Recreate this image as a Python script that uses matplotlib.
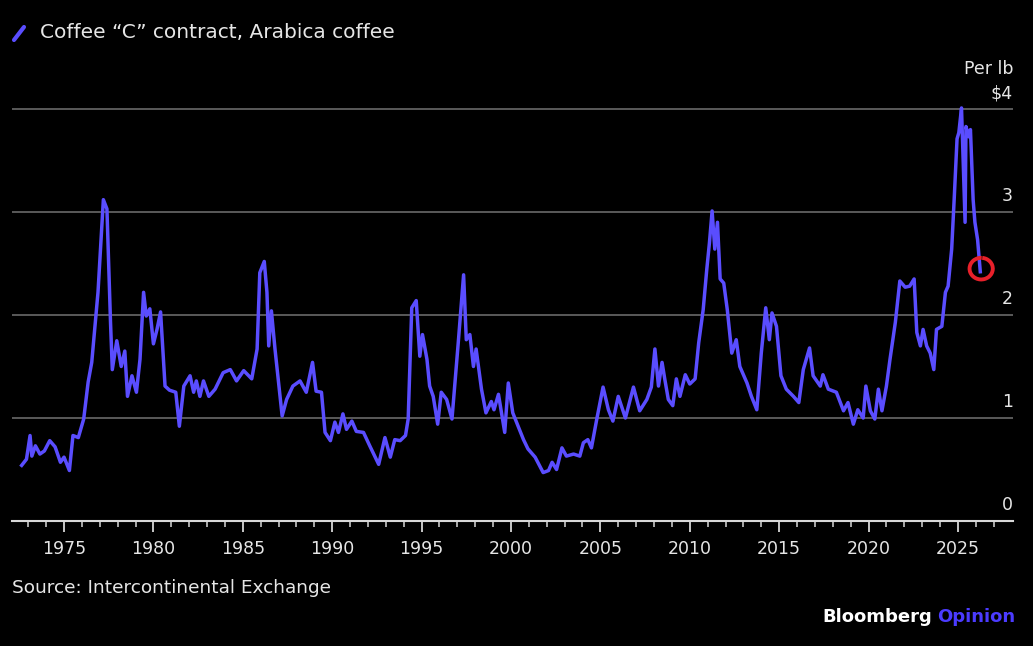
import matplotlib
matplotlib.use("Agg")
import matplotlib.pyplot as plt
from matplotlib.patches import Arc
from matplotlib.lines import Line2D
import numpy as np

# Precio del contrato "C" (USD por libra)
years = [1972.63, 1972.9, 1973.1, 1973.2, 1973.4, 1973.65, 1973.9, 1974.2, 1974.5, 1974.8,
         1975.0, 1975.3, 1975.5, 1975.8, 1976.1, 1976.35, 1976.55, 1976.9, 1977.2, 1977.4,
         1977.6, 1977.7, 1977.95, 1978.2, 1978.4, 1978.55, 1978.8, 1979.05, 1979.25, 1979.45,
         1979.6, 1979.8, 1980.0, 1980.2, 1980.4, 1980.65, 1980.9, 1981.25, 1981.45, 1981.7,
         1982.05, 1982.25, 1982.4, 1982.6, 1982.8, 1983.1, 1983.45, 1983.9, 1984.3, 1984.65,
         1985.05, 1985.5, 1985.8, 1985.95, 1986.2, 1986.35, 1986.45, 1986.6, 1986.8, 1987.2,
         1987.45, 1987.8, 1988.2, 1988.55, 1988.9, 1989.1, 1989.4, 1989.6, 1989.9, 1990.15,
         1990.35, 1990.6, 1990.8, 1991.1, 1991.35, 1991.75, 1992.1, 1992.6, 1992.95, 1993.25,
         1993.5, 1993.8, 1994.1, 1994.25, 1994.45, 1994.7, 1994.9, 1995.05, 1995.3, 1995.45,
         1995.65, 1995.9, 1996.1, 1996.4, 1996.7, 1997.05, 1997.35, 1997.5, 1997.7, 1997.9,
         1998.05, 1998.35, 1998.6, 1998.9, 1999.05, 1999.3, 1999.65, 1999.85, 2000.1, 2000.4,
         2000.7, 2000.95, 2001.35, 2001.8, 2002.1, 2002.3, 2002.55, 2002.85, 2003.1, 2003.5,
         2003.85, 2004.05, 2004.3, 2004.5, 2004.8, 2005.15, 2005.45, 2005.7, 2006.0, 2006.4,
         2006.85, 2007.2, 2007.6, 2007.85, 2008.05, 2008.25, 2008.45, 2008.6, 2008.8, 2009.05,
         2009.25, 2009.45, 2009.75, 2010.0, 2010.3, 2010.5, 2010.75, 2010.95, 2011.1, 2011.25,
         2011.4, 2011.55, 2011.7, 2011.9, 2012.1, 2012.35, 2012.6, 2012.8, 2013.2, 2013.45,
         2013.75, 2014.0, 2014.25, 2014.45, 2014.6, 2014.85, 2015.1, 2015.4, 2015.8, 2016.1,
         2016.35, 2016.7, 2016.9, 2017.3, 2017.45, 2017.75, 2018.2, 2018.6, 2018.85, 2019.15,
         2019.4, 2019.7, 2019.85, 2020.1, 2020.35, 2020.55, 2020.75, 2021.0, 2021.2, 2021.5,
         2021.75, 2022.05, 2022.3, 2022.55, 2022.7, 2022.9, 2023.05, 2023.25, 2023.45, 2023.65,
         2023.8, 2024.1, 2024.3, 2024.45, 2024.65, 2024.8, 2024.95, 2025.05, 2025.2, 2025.3,
         2025.4, 2025.45, 2025.6, 2025.7, 2025.85, 2025.95, 2026.1, 2026.25]
prices = [0.54, 0.60, 0.83, 0.63, 0.73, 0.65, 0.68, 0.78, 0.72, 0.57,
          0.62, 0.49, 0.83, 0.81, 0.99, 1.35, 1.54, 2.22, 3.12, 3.03,
          1.93, 1.47, 1.75, 1.50, 1.65, 1.21, 1.41, 1.25, 1.57, 2.22,
          1.99, 2.06, 1.72, 1.86, 2.03, 1.31, 1.27, 1.25, 0.92, 1.31,
          1.41, 1.25, 1.36, 1.21, 1.36, 1.21, 1.28, 1.44, 1.47, 1.36,
          1.46, 1.38, 1.67, 2.41, 2.52, 2.22, 1.70, 2.04, 1.67, 1.02,
          1.18, 1.31, 1.36, 1.25, 1.54, 1.26, 1.25, 0.86, 0.78, 0.96,
          0.86, 1.04, 0.89, 0.97, 0.87, 0.86, 0.73, 0.55, 0.81, 0.62,
          0.79, 0.78, 0.83, 0.99, 2.07, 2.14, 1.60, 1.81, 1.57, 1.31,
          1.21, 0.94, 1.25, 1.18, 0.99, 1.73, 2.39, 1.76, 1.81, 1.50,
          1.67, 1.28, 1.05, 1.16, 1.08, 1.23, 0.86, 1.34, 1.05, 0.92,
          0.79, 0.70, 0.62, 0.47, 0.49, 0.57, 0.50, 0.71, 0.63, 0.65,
          0.63, 0.76, 0.79, 0.71, 0.99, 1.30, 1.08, 0.97, 1.21, 1.00,
          1.30, 1.07, 1.18, 1.30, 1.67, 1.31, 1.54, 1.38, 1.18, 1.12,
          1.38, 1.21, 1.42, 1.33, 1.38, 1.73, 2.05, 2.44, 2.70, 3.01,
          2.64, 2.90, 2.35, 2.31, 2.05, 1.63, 1.76, 1.50, 1.34, 1.21,
          1.08, 1.63, 2.07, 1.76, 2.02, 1.89, 1.41, 1.28, 1.21, 1.15,
          1.47, 1.68, 1.41, 1.31, 1.42, 1.28, 1.25, 1.07, 1.15, 0.94,
          1.08, 1.00, 1.31, 1.07, 0.99, 1.28, 1.07, 1.31, 1.57, 1.93,
          2.33, 2.27, 2.28, 2.35, 1.83, 1.70, 1.86, 1.70, 1.63, 1.47,
          1.86, 1.89, 2.22, 2.28, 2.64, 3.16, 3.71, 3.77, 4.01, 3.45,
          2.90, 3.83, 3.73, 3.80, 3.12, 2.90, 2.73, 2.42]

major_years = [1975, 1980, 1985, 1990, 1995, 2000, 2005, 2010, 2015, 2020, 2025]
y_ticks = [0, 1, 2, 3, 4]
y_labels = ["0", "1", "2", "3", "$4"]

line_color = "#5a4dff"
text_color = "#e6e6e6"
grid_color = "#5a5a5a"

W, H = 1033, 646
fig = plt.figure(figsize=(W / 100, H / 100), dpi=100, facecolor="black")
ymax = 4.2
ax = fig.add_axes([12 / W, (H - 521) / H, 1001 / W, ymax * 103 / H])
ax.set_facecolor("black")

ax.plot(years, prices, color=line_color, linewidth=2.5, solid_joinstyle="round", zorder=3)

# circulo rojo dibujado a mano alrededor del ultimo dato
ax.add_patch(Arc((years[-1] + 0.05, prices[-1] + 0.03), 1.3, 0.21, theta1=75, theta2=420,
                 color="#e8202a", linewidth=2.8, zorder=4))

ax.set_xlim(1972.09, 2028.08)
ax.set_ylim(0, ymax)

for v in y_ticks[1:]:
    ax.axhline(v, color=grid_color, linewidth=1.4, zorder=1)

for s in ["top", "right", "left"]:
    ax.spines[s].set_visible(False)
ax.spines["bottom"].set_color("#d8d8d8")
ax.spines["bottom"].set_linewidth(1.5)

ax.set_xticks(major_years)
ax.set_xticklabels([str(y) for y in major_years])
ax.set_xticks(np.arange(1973, 2028), minor=True)
ax.tick_params(axis="x", which="major", length=8, width=1.3, color="#d8d8d8",
               labelcolor=text_color, labelsize=12.5, pad=6)
ax.tick_params(axis="x", which="minor", length=4, width=1.1, color="#d8d8d8")
ax.set_yticks([])

for v, lab in zip(y_ticks, y_labels):
    ax.annotate(lab, xy=(1.0, v), xycoords=("axes fraction", "data"),
                xytext=(0, 11.5), textcoords="offset points",
                ha="right", va="center", color=text_color, fontsize=12.5)
ax.annotate("Per lb", xy=(1.0, 4), xycoords=("axes fraction", "data"),
            xytext=(0, 29), textcoords="offset points",
            ha="right", va="center", color=text_color, fontsize=12.5)

# leyenda
fig.add_artist(Line2D([14 / W, 24 / W], [1 - 40 / H, 1 - 27 / H], color=line_color,
                      linewidth=3, solid_capstyle="round"))
fig.text(40 / W, 1 - 32 / H, "Coffee \u201cC\u201d contract, Arabica coffee",
         color=text_color, fontsize=14.5, ha="left", va="center")

fig.text(12 / W, 1 - 588 / H, "Source: Intercontinental Exchange",
         color=text_color, fontsize=13.3, ha="left", va="center")

t = fig.text(1015 / W, 1 - 617 / H, "Opinion", color="#4b3bff", fontsize=13,
             fontweight="bold", ha="right", va="center")
fig.canvas.draw()
bb = t.get_window_extent()
fig.text((bb.x0 - 5) / W, 1 - 617 / H, "Bloomberg", color="white", fontsize=13,
         fontweight="bold", ha="right", va="center")

fig.savefig("out.png", dpi=100, facecolor="black")
